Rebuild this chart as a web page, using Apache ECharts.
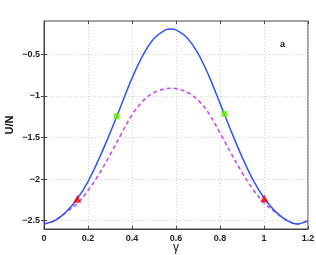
<!DOCTYPE html>
<html><head><meta charset="utf-8">
<script src="https://cdn.jsdelivr.net/npm/echarts@6/dist/echarts.min.js"></script>
<style>html,body{margin:0;padding:0;background:#fff}#c{width:316px;height:255px}</style>
</head><body><div id="c"></div>
<script>
var gammaVals = [0,0.05,0.1,0.15,0.2,0.25,0.3,0.35,0.4,0.45,0.5,0.55,0.577,0.6,0.65,0.7,0.75,0.8,0.85,0.9,0.95,1.0,1.05,1.1,1.15,1.2];
var solidU = [-2.54,-2.497,-2.395,-2.242,-2.03,-1.756,-1.448,-1.118,-0.787,-0.51,-0.311,-0.209,-0.196,-0.207,-0.30,-0.49,-0.763,-1.09,-1.42,-1.733,-2.01,-2.227,-2.385,-2.49,-2.54,-2.50];
var dashedU = [-2.54,-2.497,-2.40,-2.295,-2.137,-1.94,-1.71,-1.465,-1.229,-1.06,-0.96,-0.915,-0.908,-0.913,-0.955,-1.05,-1.213,-1.445,-1.69,-1.92,-2.123,-2.285,-2.395,-2.49,-2.54,-2.50];
var greenPts = [[0.33,-1.245],[0.82,-1.217]];
var redPts = [[0.151,-2.237],[1.001,-2.23]];
var xTicks = [0,0.2,0.4,0.6,0.8,1,1.2];
var yTicks = [-2.5,-2,-1.5,-1,-0.5];

function pairs(xs, ys){ return xs.map(function(x,i){return [x, ys[i]];}); }
var lblFont = {fontFamily:'Liberation Sans, Arial, sans-serif', fontWeight:'bold', fontSize:9, color:'#222'};
function fmt(v){ return String(v).replace('-', '\u2212'); }

var chart = echarts.init(document.getElementById('c'), null, {renderer:'canvas'});
chart.setOption({
  animation:false,
  grid:{left:44,right:8,top:21,bottom:26,show:true,borderColor:'#444',borderWidth:1,outerBoundsMode:'none',containLabel:false},
  xAxis:[{
    type:'value',min:0,max:1.2,interval:0.2,
    name:'\u03b3',nameLocation:'middle',nameGap:13,nameMoveOverlap:false,
    nameTextStyle:{fontFamily:'Liberation Sans, Arial, sans-serif',fontSize:12,color:'#222',verticalAlign:'top'},
    axisLine:{show:true,onZero:false,lineStyle:{color:'#444'}},
    axisTick:{show:true,inside:true,length:3,lineStyle:{color:'#444'}},
    axisLabel:Object.assign({margin:5,formatter:function(v){return fmt(v);}},lblFont),
    splitLine:{show:true,lineStyle:{color:'#d2d2d2',type:[1,2],width:1}}
  },{
    type:'value',min:0,max:1.2,interval:0.2,position:'top',
    axisLine:{show:false},axisTick:{show:true,inside:true,length:3,lineStyle:{color:'#444'}},
    axisLabel:{show:false},splitLine:{show:false}
  }],
  yAxis:[{
    type:'value',min:-2.6,max:-0.1,
    name:'U/N',nameLocation:'middle',nameGap:29,nameRotate:90,nameMoveOverlap:false,
    nameTextStyle:{fontFamily:'Liberation Sans, Arial, sans-serif',fontWeight:'bold',fontSize:11,color:'#111'},
    axisLine:{show:true,onZero:false,lineStyle:{color:'#444'}},
    axisTick:{show:true,inside:true,length:3,customValues:yTicks,lineStyle:{color:'#444'}},
    axisLabel:Object.assign({margin:4,customValues:yTicks,formatter:function(v){return fmt(v);}},lblFont),
    splitLine:{show:true,lineStyle:{color:'#d2d2d2',type:[1,2],width:1}}
  },{
    type:'value',min:-2.6,max:-0.1,position:'right',
    axisLine:{show:false},
    axisTick:{show:true,inside:true,length:3,customValues:yTicks,lineStyle:{color:'#444'}},
    axisLabel:{show:false},splitLine:{show:false}
  }],
  series:[
    {type:'line',name:'dashed',data:pairs(gammaVals,dashedU),smooth:0.35,showSymbol:false,
     lineStyle:{color:'#c44cf4',width:1.6,type:[4,3]},z:2},
    {type:'line',name:'solid',data:pairs(gammaVals,solidU),smooth:0.35,showSymbol:false,
     lineStyle:{color:'#3057f2',width:1.5},z:3},
    {type:'scatter',data:greenPts,symbol:'rect',symbolSize:6,itemStyle:{color:'#66ee00'},z:5},
    {type:'scatter',data:redPts,symbol:'triangle',symbolSize:8,itemStyle:{color:'#ff0000'},z:5}
  ],
  graphic:[{type:'text',left:280,top:40,style:{text:'a',fontFamily:'Liberation Sans, Arial, sans-serif',fontWeight:'bold',fontSize:9,fill:'#111'}}]
});
</script></body></html>
